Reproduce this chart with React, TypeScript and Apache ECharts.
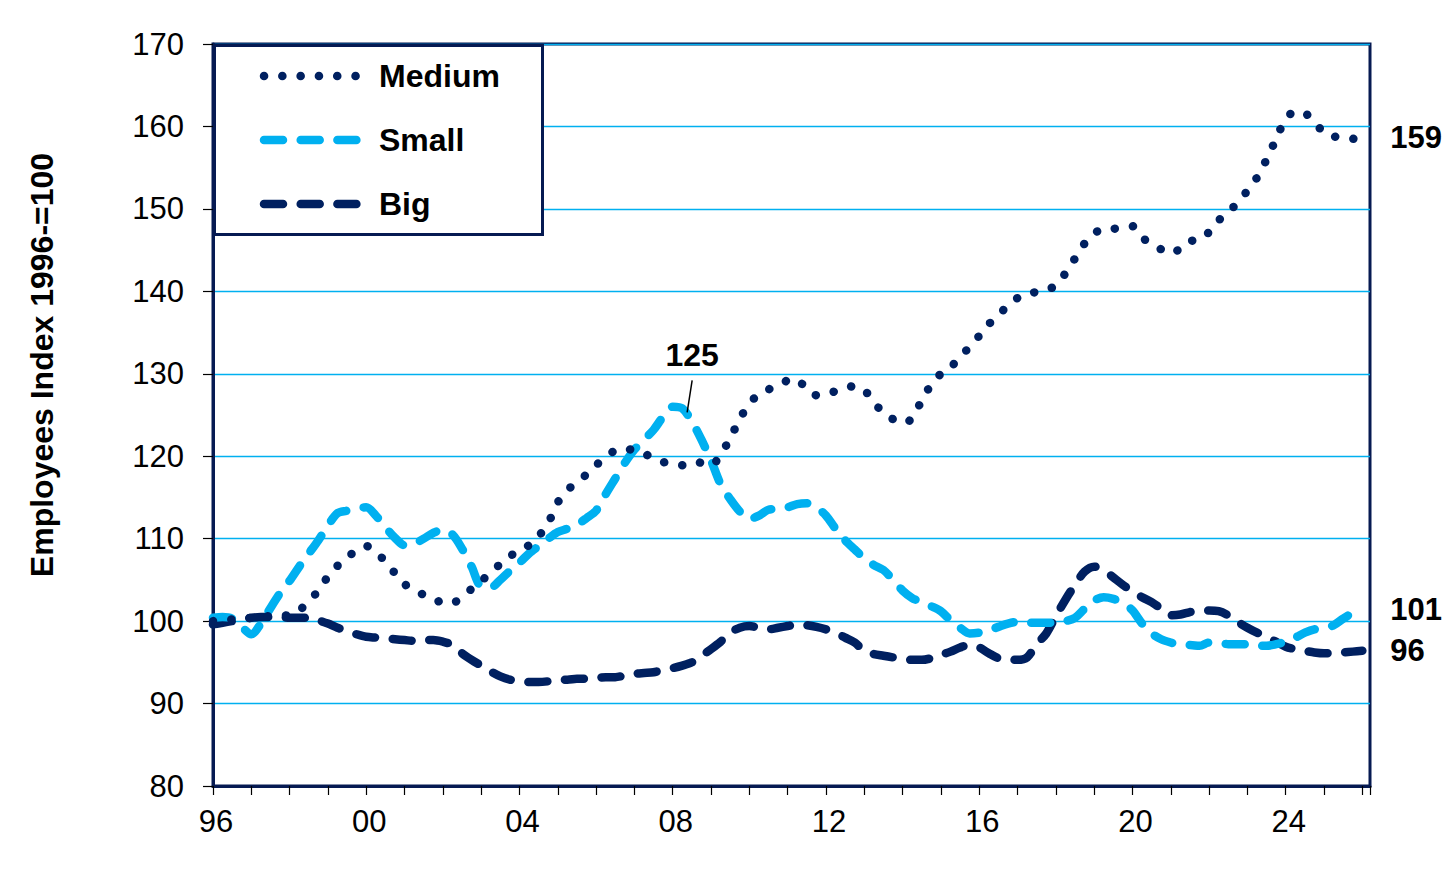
import React, { useEffect, useRef } from 'react';
import * as echarts from 'echarts';

// Quarterly observations, first value = 1996 Q1, step = one quarter
const START_YEAR = 1996;
const STEP = 0.25;

const seriesNames = ['Medium', 'Small', 'Big'];

const medium = [
  100.0, 100.1, 100.2, 100.3,
  100.4, 100.5, 100.6, 100.6,
  100.8, 101.3, 102.4, 103.7,
  105.4, 106.7, 107.7, 108.6,
  109.1, 108.4, 107.2, 105.8,
  104.5, 103.7, 103.2, 102.8,
  102.2, 102.2, 103.0, 103.9,
  104.8, 106.0, 106.9, 107.8,
  108.8, 109.2, 110.3, 111.9,
  114.4, 115.9, 116.8, 117.8,
  118.9, 119.9, 120.7, 120.9,
  120.7, 120.3, 119.8, 119.3,
  119.0, 118.9, 119.3, 119.2,
  118.9, 120.2, 122.2, 124.5,
  126.4, 127.5, 128.1, 128.5,
  129.2, 129.3, 128.0, 127.4,
  127.5, 127.9, 128.3, 128.5,
  128.0, 126.6, 125.2, 124.5,
  124.0, 124.6, 126.8, 128.7,
  130.0, 130.8, 132.0, 133.3,
  134.6, 136.0, 137.2, 138.2,
  139.2, 139.8, 139.9, 140.2,
  140.7, 142.2, 144.0, 145.8,
  147.0, 147.6, 147.6, 147.7,
  147.9, 146.6, 145.6, 145.1,
  144.6, 145.2, 146.1, 146.2,
  147.2, 148.6, 149.6, 150.8,
  152.2, 153.8, 156.0, 158.5,
  160.9, 161.8, 161.6, 160.6,
  159.2, 158.8, 158.6, 158.5,
  158.6,
];

const small = [
  100.4, 100.5, 100.3, 99.3,
  98.4, 99.7, 101.6, 103.4,
  104.9, 106.6, 108.2, 109.8,
  111.6, 113.1, 113.4, 113.7,
  113.8, 112.8, 111.4, 110.1,
  109.2, 109.4, 110.0, 110.7,
  111.1, 110.5, 108.8, 106.6,
  104.2, 104.1, 105.0, 106.1,
  107.1, 108.2, 109.1, 110.0,
  110.8, 111.2, 111.7, 112.5,
  113.4, 115.4, 117.3, 119.2,
  120.8, 122.0, 123.2, 124.8,
  126.0, 125.8, 124.2, 122.0,
  119.5, 116.6, 114.8, 113.3,
  112.4, 112.8, 113.5, 113.6,
  113.8, 114.2, 114.3, 113.8,
  112.8, 111.2, 109.8, 108.7,
  107.6, 106.8, 106.2, 105.0,
  103.7, 102.8, 102.3, 101.8,
  101.2, 100.1, 99.2, 98.5,
  98.6, 98.9, 99.3, 99.7,
  99.9, 99.8, 99.8, 99.8,
  99.8, 100.0, 100.4, 101.5,
  102.5, 102.9, 102.7, 102.2,
  101.3, 99.7, 98.5, 97.8,
  97.4, 97.1, 97.1, 97.0,
  97.4, 97.4, 97.2, 97.2,
  97.2, 97.0, 97.0, 97.2,
  97.5, 98.0, 98.6, 99.0,
  99.1, 99.5, 100.3, 101.0,
  101.4,
];

const big = [
  99.6, 99.8, 100.0, 100.2,
  100.4, 100.5, 100.5, 100.5,
  100.4, 100.4, 100.4, 100.1,
  99.7, 99.2, 98.8, 98.4,
  98.1, 98.0, 97.9, 97.8,
  97.7, 97.6, 97.7, 97.7,
  97.5, 97.1, 96.1, 95.3,
  94.6, 93.9, 93.3, 92.9,
  92.7, 92.6, 92.6, 92.7,
  92.9, 92.9, 93.0, 93.0,
  93.1, 93.2, 93.2, 93.4,
  93.6, 93.7, 93.8, 94.1,
  94.3, 94.6, 95.0, 95.8,
  96.6, 97.5, 98.6, 99.2,
  99.4, 99.2, 99.0, 99.2,
  99.4, 99.6, 99.5, 99.3,
  99.0, 98.6, 98.0, 97.4,
  96.4, 96.0, 95.8, 95.6,
  95.4, 95.3, 95.3, 95.5,
  95.9, 96.3, 96.8, 97.1,
  96.8, 96.1, 95.5, 95.3,
  95.3, 95.6, 97.2, 98.5,
  100.6, 102.6, 104.4, 106.0,
  106.6, 106.2, 105.3, 104.4,
  103.6, 102.9, 102.3, 101.5,
  100.7, 100.8, 101.1, 101.3,
  101.3, 101.2, 100.7, 99.9,
  99.2, 98.6, 98.1, 97.5,
  96.9, 96.6, 96.4, 96.2,
  96.1, 96.1, 96.2, 96.3,
  96.4,
];

const Y_MIN = 80;
const Y_MAX = 170;
const Y_STEP = 10;
const X_MIN = 1996;
const X_MAX = 2026.2;
const X_LABEL_EVERY = 4;
const yAxisTitle = 'Employees Index 1996-=100';
const peakNote = { year: 2008.35, value: 125.2, text: '125' };

const FONT = "'Liberation Sans', Arial, Helvetica, sans-serif";
const NAVY = '#002060';
const CYAN = '#00B0F0';
const AXIS = '#061a52';

const DOTS = [0.1, 18.2];
const DASH = [19, 17.7];

const toPairs = (vals: number[]) => vals.map((v, i) => [START_YEAR + i * STEP, v]);

const endLabel = {
  show: true,
  formatter: (p: any) => String(Math.round(p.value[1])),
  distance: 28,
  fontSize: 31,
  fontWeight: 'bold' as const,
  color: '#000',
  fontFamily: FONT,
};

export default function App() {
  const ref = useRef<HTMLDivElement>(null);

  useEffect(() => {
    if (!ref.current) return;
    const chart = echarts.init(ref.current, undefined, { renderer: 'svg' });

    chart.setOption({
      animation: false,
      backgroundColor: '#fff',
      grid: {
        left: 213,
        right: 86,
        top: 44,
        bottom: 88,
        show: true,
        borderColor: AXIS,
        borderWidth: 3,
      },
      xAxis: {
        type: 'value',
        min: X_MIN,
        max: X_MAX,
        interval: 1,
        axisLine: { show: true, onZero: false, lineStyle: { color: AXIS, width: 3 } },
        axisTick: { show: true, length: 9, lineStyle: { color: '#000', width: 1.2 } },
        splitLine: { show: false },
        axisLabel: {
          fontSize: 31,
          color: '#000',
          fontFamily: FONT,
          margin: 20,
          padding: [0, 0, 0, 6],
          formatter: (v: number) => {
            const r = Math.round(v);
            if (Math.abs(v - r) > 1e-6 || r % X_LABEL_EVERY !== 0) return '';
            return String(r % 100).padStart(2, '0');
          },
        },
      },
      yAxis: {
        type: 'value',
        min: Y_MIN,
        max: Y_MAX,
        interval: Y_STEP,
        axisLine: { show: true, lineStyle: { color: AXIS, width: 3 } },
        axisTick: { show: true, length: 10, lineStyle: { color: '#000', width: 1.2 } },
        splitLine: { show: true, lineStyle: { color: CYAN, width: 1.3 } },
        axisLabel: { fontSize: 31, color: '#000', fontFamily: FONT, margin: 29 },
      },
      series: [
        {
          name: seriesNames[2],
          type: 'line',
          data: toPairs(big),
          symbol: 'none',
          smooth: 0.3,
          lineStyle: { color: NAVY, width: 8.5, type: DASH, cap: 'round', join: 'round' },
          endLabel,
          z: 3,
        },
        {
          name: seriesNames[1],
          type: 'line',
          data: toPairs(small),
          symbol: 'none',
          smooth: 0.3,
          lineStyle: { color: CYAN, width: 8.5, type: DASH, cap: 'round', join: 'round' },
          endLabel,
          z: 4,
        },
        {
          name: seriesNames[0],
          type: 'line',
          data: toPairs(medium),
          symbol: 'none',
          smooth: 0.3,
          lineStyle: { color: NAVY, width: 8.5, type: DOTS, cap: 'round', join: 'round' },
          endLabel,
          z: 5,
        },
      ],
    });

    const p = chart.convertToPixel({ gridIndex: 0 }, [peakNote.year, peakNote.value]) as number[];

    const legendRows = [
      { name: seriesNames[0], color: NAVY, dash: DOTS, y: 76 },
      { name: seriesNames[1], color: CYAN, dash: DASH, y: 140 },
      { name: seriesNames[2], color: NAVY, dash: DASH, y: 204 },
    ];

    const graphic: any[] = [
      {
        id: 'ytitle',
        type: 'text',
        x: 42,
        y: 365,
        rotation: Math.PI / 2,
        style: {
          text: yAxisTitle,
          font: `bold 32px ${FONT}`,
          fill: '#000',
          align: 'center',
          verticalAlign: 'middle',
          textAlign: 'center',
          textVerticalAlign: 'middle',
        },
      },
      {
        id: 'legend-box',
        type: 'rect',
        shape: { x: 214.5, y: 45.5, width: 328, height: 189 },
        style: { fill: '#fff', stroke: AXIS, lineWidth: 3 },
        z: 10,
      },
    ];
    legendRows.forEach((r, i) => {
      graphic.push({
        id: 'leg-line-' + i,
        type: 'line',
        shape: { x1: 264, y1: r.y, x2: 357, y2: r.y },
        style: { stroke: r.color, lineWidth: 8.5, lineDash: r.dash, lineCap: 'round' },
        z: 11,
      });
      graphic.push({
        id: 'leg-text-' + i,
        type: 'text',
        x: 379,
        y: r.y,
        style: {
          text: r.name,
          font: `bold 32px ${FONT}`,
          fill: '#000',
          align: 'left',
          verticalAlign: 'middle',
          textAlign: 'left',
          textVerticalAlign: 'middle',
        },
        z: 11,
      });
    });
    graphic.push({
      id: 'note-line',
      type: 'line',
      shape: { x1: p[0] + 6, y1: p[1] - 33, x2: p[0] + 1, y2: p[1] - 1 },
      style: { stroke: '#000', lineWidth: 1.5 },
      z: 12,
    });
    graphic.push({
      id: 'note-text',
      type: 'text',
      x: p[0] + 6,
      y: p[1] - 58,
      style: {
        text: peakNote.text,
        font: `bold 32px ${FONT}`,
        fill: '#000',
        align: 'center',
        verticalAlign: 'middle',
        textAlign: 'center',
        textVerticalAlign: 'middle',
      },
      z: 12,
    });

    chart.setOption({ graphic });

    return () => chart.dispose();
  }, []);

  return (
    <div
      ref={ref}
      style={{ position: 'fixed', left: 0, top: 0, width: 1456, height: 874, background: '#fff' }}
    />
  );
}
